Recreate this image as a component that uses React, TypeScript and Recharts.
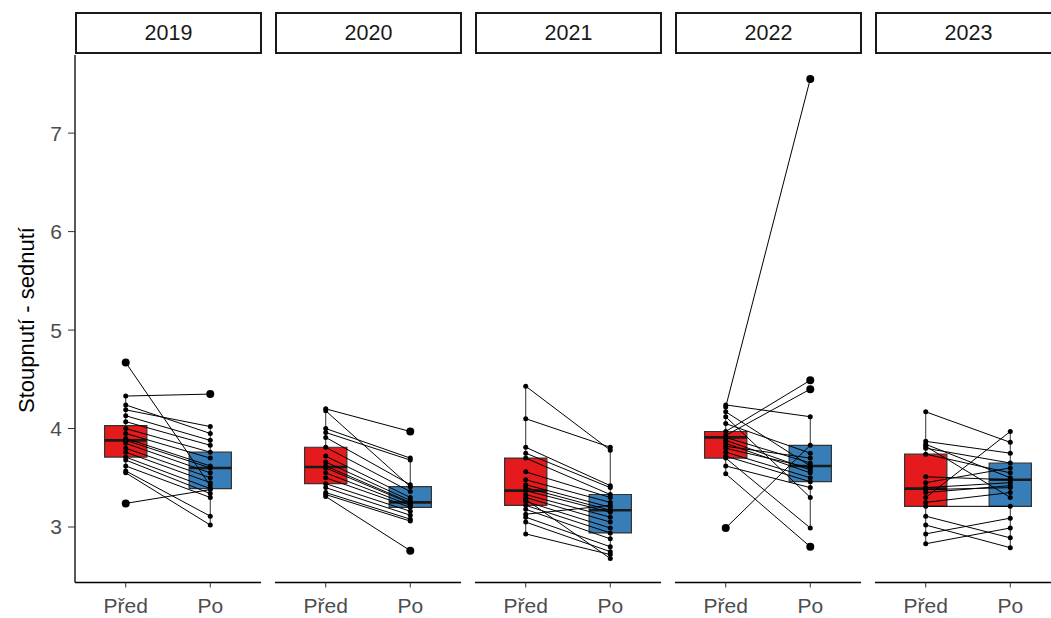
import React from 'react';
import { ComposedChart, XAxis, YAxis, Line, Scatter, ReferenceArea, ReferenceLine } from 'recharts';

const YEARS = ['2019', '2020', '2021', '2022', '2023'];
const GROUPS = ['Před', 'Po'];
const Y_TICKS = [3, 4, 5, 6, 7];
const Y_LABEL = 'Stoupnutí - sednutí';

const PRE_2019 = [4.67, 4.33, 4.24, 4.19, 4.13, 4.07, 4.0, 3.95, 3.9, 3.88, 3.85, 3.8, 3.76, 3.71, 3.68, 3.62, 3.57, 3.55, 3.24];
const PO_2019 = [3.42, 4.35, 3.95, 4.02, 3.88, 3.83, 3.76, 3.7, 3.62, 3.6, 3.55, 3.5, 3.45, 3.39, 3.34, 3.3, 3.11, 3.02, 3.38];
const PRE_2020 = [4.2, 4.18, 4.0, 3.96, 3.91, 3.81, 3.72, 3.66, 3.62, 3.6, 3.55, 3.5, 3.44, 3.4, 3.35, 3.33, 3.31];
const PO_2020 = [3.97, 3.41, 3.7, 3.68, 3.43, 3.36, 3.3, 3.27, 3.25, 3.24, 3.22, 3.2, 3.16, 3.12, 3.08, 3.06, 2.76];
const PRE_2021 = [4.43, 4.1, 3.81, 3.75, 3.7, 3.56, 3.48, 3.43, 3.4, 3.37, 3.33, 3.3, 3.26, 3.22, 3.18, 3.13, 3.1, 3.05, 2.93, 3.28];
const PO_2021 = [3.78, 3.81, 3.42, 3.4, 3.33, 3.3, 3.25, 3.2, 3.17, 3.15, 3.1, 3.05, 2.99, 2.94, 2.88, 3.22, 2.8, 2.75, 2.72, 2.68];
const PRE_2022 = [4.22, 4.24, 4.17, 4.12, 4.05, 3.97, 3.93, 3.91, 3.88, 3.85, 3.8, 3.76, 3.72, 3.7, 3.62, 3.54, 2.99, 3.82];
const PO_2022 = [7.55, 4.12, 3.62, 3.3, 3.75, 4.49, 4.4, 3.65, 3.58, 3.55, 3.6, 3.5, 3.46, 2.99, 3.4, 2.8, 3.83, 3.7];
const PRE_2023 = [4.17, 3.87, 3.84, 3.82, 3.8, 3.74, 3.51, 3.45, 3.4, 3.38, 3.3, 3.25, 3.21, 3.11, 3.02, 2.93, 2.83, 3.35];
const PO_2023 = [3.86, 3.75, 3.5, 3.3, 3.65, 3.55, 3.48, 3.6, 3.45, 3.4, 3.97, 3.35, 3.21, 2.89, 2.79, 3.09, 2.99, 3.42];

// box stats: [lower whisker, Q1, median, Q3, upper whisker]
const BOX_PRE_2019 = [3.55, 3.71, 3.88, 4.03, 4.33];
const BOX_PO_2019 = [3.02, 3.39, 3.6, 3.76, 4.02];
const BOX_PRE_2020 = [3.31, 3.44, 3.61, 3.81, 4.2];
const BOX_PO_2020 = [3.06, 3.2, 3.25, 3.41, 3.7];
const BOX_PRE_2021 = [2.93, 3.22, 3.37, 3.7, 4.43];
const BOX_PO_2021 = [2.68, 2.94, 3.17, 3.33, 3.81];
const BOX_PRE_2022 = [3.54, 3.7, 3.91, 3.97, 4.24];
const BOX_PO_2022 = [2.99, 3.46, 3.62, 3.83, 4.12];
const BOX_PRE_2023 = [2.83, 3.21, 3.39, 3.74, 4.17];
const BOX_PO_2023 = [2.79, 3.21, 3.48, 3.65, 3.97];

const PANELS = [
  { pre: PRE_2019, po: PO_2019, boxPre: BOX_PRE_2019, boxPo: BOX_PO_2019 },
  { pre: PRE_2020, po: PO_2020, boxPre: BOX_PRE_2020, boxPo: BOX_PO_2020 },
  { pre: PRE_2021, po: PO_2021, boxPre: BOX_PRE_2021, boxPo: BOX_PO_2021 },
  { pre: PRE_2022, po: PO_2022, boxPre: BOX_PRE_2022, boxPo: BOX_PO_2022 },
  { pre: PRE_2023, po: PO_2023, boxPre: BOX_PRE_2023, boxPo: BOX_PO_2023 },
];

const COLORS = ['#E41A1C', '#377EB8'];
const Y_DOMAIN: [number, number] = [2.4365, 7.7935];
const PANEL_W = 186;
const PANEL_STEP = 200;
const AXIS_W = 75;
const TOP = 55;
const H = 618;
const FONT = 'Liberation Sans, Arial, sans-serif';

const smallDot = (p: any) => <circle cx={p.cx} cy={p.cy} r={2.5} fill="#000" />;
const bigDot = (p: any) => <circle cx={p.cx} cy={p.cy} r={4} fill="#000" />;

function boxElems(stats: number[], x: number, color: string, key: string) {
  const [lo, q1, med, q3, hi] = stats;
  const hw = 0.25;
  return [
    <ReferenceLine key={key + 'wl'} segment={[{ x, y: lo }, { x, y: q1 }]} stroke="#333" strokeWidth={1} />,
    <ReferenceLine key={key + 'wh'} segment={[{ x, y: q3 }, { x, y: hi }]} stroke="#333" strokeWidth={1} />,
    <ReferenceArea key={key + 'b'} x1={x - hw} x2={x + hw} y1={q1} y2={q3} fill={color} fillOpacity={1} stroke="#333" strokeWidth={1.2} />,
    <ReferenceLine key={key + 'm'} segment={[{ x: x - hw, y: med }, { x: x + hw, y: med }]} stroke="#1a1a1a" strokeWidth={2.6} />,
  ];
}

function Panel({ idx }: { idx: number }) {
  const p = PANELS[idx];
  const first = idx === 0;
  const width = first ? AXIS_W + PANEL_W : PANEL_W;
  const left = first ? 0 : AXIS_W + idx * PANEL_STEP;
  const isOut = (v: number, s: number[]) => v < s[0] - 1e-9 || v > s[4] + 1e-9;
  const preIn = p.pre.filter((v) => !isOut(v, p.boxPre)).map((y) => ({ x: 1, y }));
  const preOut = p.pre.filter((v) => isOut(v, p.boxPre)).map((y) => ({ x: 1, y }));
  const poIn = p.po.filter((v) => !isOut(v, p.boxPo)).map((y) => ({ x: 2, y }));
  const poOut = p.po.filter((v) => isOut(v, p.boxPo)).map((y) => ({ x: 2, y }));
  return (
    <div style={{ position: 'absolute', left, top: 0 }}>
      <ComposedChart width={width} height={H} margin={{ top: TOP, right: 0, bottom: 0, left: 0 }}>
        <XAxis
          type="number"
          dataKey="x"
          domain={[0.4, 2.6]}
          ticks={[1, 2]}
          allowDataOverflow
          tickFormatter={(v: number) => GROUPS[v - 1]}
          height={35.5}
          tickSize={5}
          tickMargin={11}
          axisLine={{ stroke: '#000', strokeWidth: 1.3 }}
          tickLine={{ stroke: '#333' }}
          tick={{ fill: '#4d4d4d', fontSize: 21, fontFamily: FONT }}
        />
        <YAxis
          type="number"
          dataKey="y"
          domain={Y_DOMAIN}
          ticks={Y_TICKS}
          allowDataOverflow
          hide={!first}
          width={AXIS_W}
          tickSize={7}
          tickMargin={6}
          axisLine={{ stroke: '#000', strokeWidth: 1.3 }}
          tickLine={{ stroke: '#333' }}
          tick={{ fill: '#4d4d4d', fontSize: 21, fontFamily: FONT }}
          label={{
            content: () => (
              <text
                x={26}
                y={320}
                transform="rotate(-90 26 320)"
                textAnchor="middle"
                dominantBaseline="central"
                fontSize={22}
                fill="#000"
                fontFamily={FONT}
              >
                {Y_LABEL}
              </text>
            ),
          }}
        />
        {boxElems(p.boxPre, 1, COLORS[0], 'pre')}
        {boxElems(p.boxPo, 2, COLORS[1], 'po')}
        {p.pre.map((v, i) => (
          <Line
            key={'l' + i}
            data={[{ x: 1, y: v }, { x: 2, y: p.po[i] }]}
            dataKey="y"
            type="linear"
            stroke="#000"
            strokeWidth={1}
            dot={false}
            activeDot={false}
            isAnimationActive={false}
          />
        ))}
        <Scatter data={preIn} shape={smallDot} isAnimationActive={false} />
        <Scatter data={poIn} shape={smallDot} isAnimationActive={false} />
        <Scatter data={preOut} shape={bigDot} isAnimationActive={false} />
        <Scatter data={poOut} shape={bigDot} isAnimationActive={false} />
      </ComposedChart>
    </div>
  );
}

function Strip({ idx }: { idx: number }) {
  return (
    <div
      style={{
        position: 'absolute',
        left: AXIS_W + idx * PANEL_STEP,
        top: 12,
        width: PANEL_W + 1,
        height: 42,
        boxSizing: 'border-box',
        border: '2px solid #1a1a1a',
        background: '#fff',
        display: 'flex',
        alignItems: 'center',
        justifyContent: 'center',
        fontFamily: FONT,
        fontSize: 21.5,
        color: '#1a1a1a',
      }}
    >
      {YEARS[idx]}
    </div>
  );
}

export default function App() {
  return (
    <div style={{ position: 'absolute', left: 0, top: 0, width: 1051, height: 618, overflow: 'hidden', background: '#fff' }}>
      {YEARS.map((_, i) => (
        <Panel key={'p' + i} idx={i} />
      ))}
      {YEARS.map((_, i) => (
        <Strip key={'s' + i} idx={i} />
      ))}
    </div>
  );
}
